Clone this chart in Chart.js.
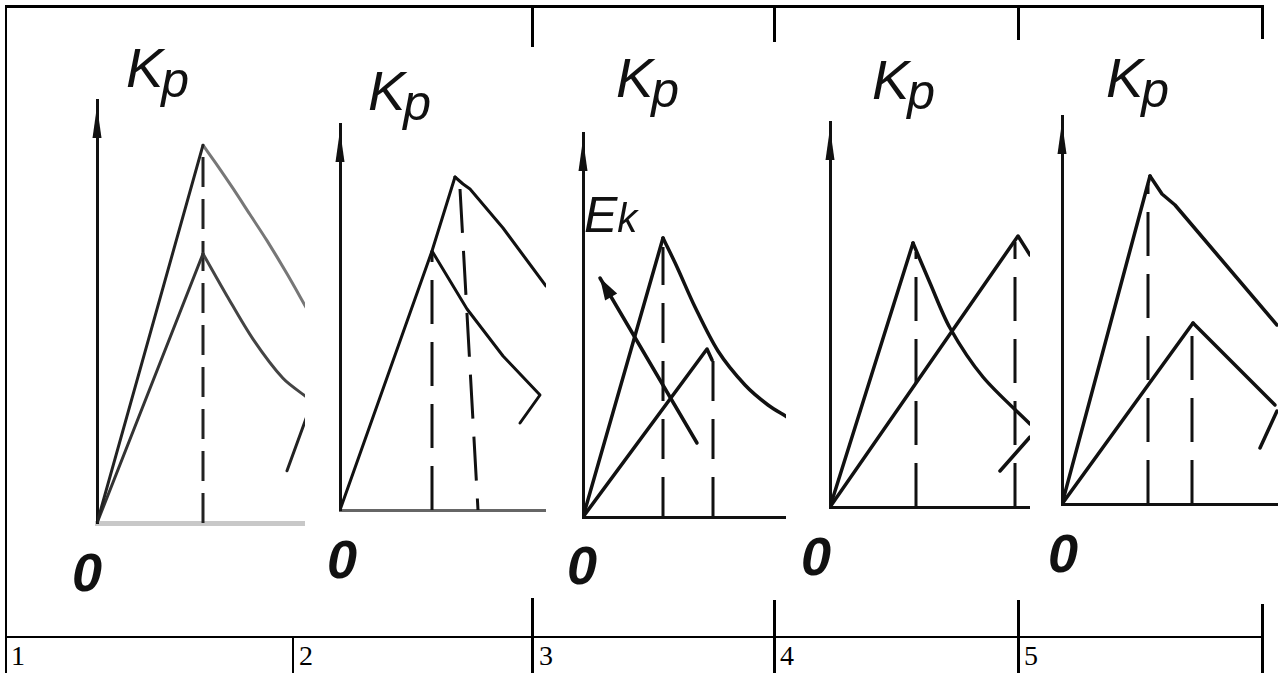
<!DOCTYPE html>
<html><head><meta charset="utf-8">
<script src="https://cdn.jsdelivr.net/npm/chart.js@4.4.1/dist/chart.umd.min.js"></script>
<style>
html,body{margin:0;padding:0;background:#fff;}
body{width:1283px;height:673px;position:relative;overflow:hidden;}
.ln{position:absolute;background:#000;}
.cv{position:absolute;}
.kp{position:absolute;font-family:"Liberation Sans",sans-serif;font-style:italic;font-size:56px;line-height:1;color:#111;white-space:nowrap;}
.kp span{position:relative;top:10px;margin-left:-2px;font-size:50px;}
.zero{position:absolute;font-family:"Liberation Sans",sans-serif;font-style:italic;font-weight:bold;font-size:54px;line-height:1;color:#111;}
.ek{position:absolute;font-family:"Liberation Sans",sans-serif;font-style:italic;font-size:50px;line-height:1;color:#111;white-space:nowrap;}
.num{position:absolute;font-family:"Liberation Serif",serif;font-size:28px;line-height:1;color:#000;}
</style></head><body>
<!-- table lines -->
<div class="ln" style="left:6px;top:5px;width:1258px;height:3px"></div>
<div class="ln" style="left:5px;top:5px;width:2px;height:668px"></div>
<div class="ln" style="left:6px;top:636px;width:1258px;height:2px"></div>
<div class="ln" style="left:292px;top:636px;width:2px;height:37px"></div>
<div class="ln" style="left:531px;top:5px;width:3px;height:42px"></div>
<div class="ln" style="left:531px;top:598px;width:3px;height:75px"></div>
<div class="ln" style="left:773px;top:5px;width:3px;height:37px"></div>
<div class="ln" style="left:773px;top:600px;width:3px;height:73px"></div>
<div class="ln" style="left:1017px;top:5px;width:3px;height:35px"></div>
<div class="ln" style="left:1017px;top:600px;width:3px;height:73px"></div>
<div class="ln" style="left:1261px;top:5px;width:3px;height:34px"></div>
<div class="ln" style="left:1261px;top:604px;width:3px;height:69px"></div>

<div class="num" style="left:11px;top:642px">1</div>
<div class="num" style="left:299px;top:642px">2</div>
<div class="num" style="left:539px;top:642px">3</div>
<div class="num" style="left:780px;top:642px">4</div>
<div class="num" style="left:1024px;top:642px">5</div>

<canvas id="c1" class="cv"></canvas>
<canvas id="c2" class="cv"></canvas>
<canvas id="c3" class="cv"></canvas>
<canvas id="c4" class="cv"></canvas>
<canvas id="c5" class="cv"></canvas>

<div class="kp" style="left:126px;top:40px">K<span>p</span></div>
<div class="kp" style="left:368px;top:63px">K<span>p</span></div>
<div class="kp" style="left:616px;top:50px">K<span>p</span></div>
<div class="kp" style="left:872px;top:52px">K<span>p</span></div>
<div class="kp" style="left:1106px;top:50px">K<span>p</span></div>
<div class="ek" style="left:584px;top:190px">E<span style="font-size:40px">k</span></div>

<div class="zero" style="left:72px;top:545px">0</div>
<div class="zero" style="left:327px;top:532px">0</div>
<div class="zero" style="left:567px;top:538px">0</div>
<div class="zero" style="left:801px;top:529px">0</div>
<div class="zero" style="left:1048px;top:526px">0</div>

<script>
// ---- data (x, y) in chart units ----
// Panel 1
const p1Range = [20.8, 42.1];
const p1RiseHigh = [[0,0],[10.6,37.6]];
const p1FallHigh = [[10.6,37.6],[12.1,35.5],[13.6,33.3],[15.3,30.7],[17.0,28.1],[19.0,24.8],[21.0,21.3]];
const p1RiseLow = [[0,0],[10.6,26.8]];
const p1FallLow = [[10.6,26.8],[13.0,22.6],[15.6,18.3],[18.6,14.4],[21.0,12.5]];
const p1Tail = [[19.0,5.2],[21.6,12.3]];
const p1Guide = [[10.6,0],[10.6,37.6]];
// Panel 2
const p2Range = [20.6, 38.6];
const p2Rise = [[0,0],[9.2,25.9],[11.5,33.3]];
const p2FallHigh = [[11.5,33.3],[12.3,32.6],[13.0,32.1],[16.3,28.2],[20.6,22.4]];
const p2FallLow = [[9.2,25.9],[12.7,20.1],[16.3,15.4],[20.0,11.5],[18.0,8.7]];
const p2Guide1 = [[9.2,0],[9.2,25.9]];
const p2Guide2 = [[12.0,32.1],[13.8,0]];
// Panel 3
const p3Range = [20.3, 38.4];
const p3RiseHigh = [[0,0],[8.0,27.9]];
const p3FallHigh = [[8.0,27.9],[9.4,25.0],[11.2,21.0],[13.5,16.6],[16.2,13.2],[18.5,11.2],[20.4,10.0]];
const p3RiseLow = [[0,0],[12.4,16.8],[12.9,15.7]];
const p3Ek = [[11.4,7.4],[1.7,23.9]];
const p3Guide1 = [[8.0,0],[8.0,27.0]];
const p3Guide2 = [[13.0,0],[13.0,16.5]];
// Panel 4
const p4Range = [20.0, 38.5];
const p4RiseA = [[0,0],[8.3,26.4]];
const p4FallA = [[8.3,26.4],[10.0,22.4],[12.0,17.9],[15.3,13.0],[20.0,8.3]];
const p4RiseB = [[0,0],[18.8,27.1],[20.0,25.2]];
const p4Tail = [[17.0,3.6],[20.0,7.0]];
const p4Guide1 = [[8.6,0],[8.6,25.5]];
const p4Guide2 = [[18.5,0],[18.5,26.5]];
// Panel 5
const p5Range = [21.6, 38.8];
const p5RiseA = [[0,0],[8.8,32.8]];
const p5FallA = [[8.8,32.8],[10.0,31.0],[11.3,29.9],[21.5,17.9]];
const p5RiseB = [[0,0],[13.1,18.1]];
const p5FallB = [[13.1,18.1],[21.3,9.9]];
const p5Tail = [[19.8,5.6],[21.5,9.3]];
const p5Guide1 = [[8.6,0],[8.6,32.0]];
const p5Guide2 = [[13.0,0],[13.0,17.5]];

// ---- layout (pixels) ----
const PL = 24, PT = 12, PB = 12;

function pts(a){ return a.map(p => ({x:p[0], y:p[1]})); }
function line(a, opt){
  return Object.assign({data: pts(a), showLine:true, pointRadius:0, borderColor:'#111', borderWidth:3,
    tension:0, fill:false, borderCapStyle:'round', borderJoinStyle:'round'}, opt||{});
}
function curve(a, opt){ return line(a, Object.assign({tension:0.3}, opt||{})); }
function dash(a, opt){ return line(a, Object.assign({borderDash:[34,14], borderCapStyle:'butt', borderWidth:3}, opt||{})); }

const arrowPlugin = {
  id:'arrows',
  afterDatasetsDraw(chart){
    const {ctx, scales:{x, y}} = chart;
    const ax = x.getPixelForValue(0), top = y.getPixelForValue(y.max);
    ctx.save();
    ctx.fillStyle = '#111';
    ctx.beginPath();
    ctx.moveTo(ax, top + 6); ctx.lineTo(ax + 4.5, top + 38); ctx.lineTo(ax - 4.5, top + 38); ctx.closePath();
    ctx.fill();
    chart.data.datasets.forEach((ds, i) => {
      if (!ds.arrowEnd) return;
      const el = chart.getDatasetMeta(i).data;
      const a = el[el.length-2], b = el[el.length-1];
      const ang = Math.atan2(b.y - a.y, b.x - a.x);
      const L = 22, W = 7;
      ctx.beginPath();
      ctx.moveTo(b.x, b.y);
      ctx.lineTo(b.x - L*Math.cos(ang) + W*Math.sin(ang), b.y - L*Math.sin(ang) - W*Math.cos(ang));
      ctx.lineTo(b.x - L*Math.cos(ang) - W*Math.sin(ang), b.y - L*Math.sin(ang) + W*Math.cos(ang));
      ctx.closePath(); ctx.fill();
    });
    ctx.restore();
  }
};

function make(id, origin, top, right, range, datasets, xAxis){
  const cv = document.getElementById(id);
  const w = right - origin[0] + PL, h = origin[1] - top + PT + PB;
  cv.width = w; cv.height = h;
  cv.style.left = (origin[0] - PL) + 'px';
  cv.style.top = (top - PT) + 'px';
  cv.style.width = w + 'px'; cv.style.height = h + 'px';
  return new Chart(cv, {
    type:'scatter',
    data:{datasets},
    plugins:[arrowPlugin],
    options:{
      responsive:false, animation:false, events:[],
      layout:{padding:{left:PL, top:PT, right:0, bottom:PB}},
      plugins:{legend:{display:false}, tooltip:{enabled:false}},
      scales:{
        x:{type:'linear', min:0, max:range[0], ticks:{display:false}, grid:{display:false, drawTicks:false},
           border:{display:true, color:xAxis.color, width:xAxis.width}},
        y:{type:'linear', min:0, max:range[1], ticks:{display:false}, grid:{display:false, drawTicks:false},
           border:{display:true, color:'#111', width:3}}
      }
    }
  });
}

make('c1', [97,523], 100, 305, p1Range, [
  line(p1RiseHigh, {borderColor:'#222'}),
  curve(p1FallHigh, {borderColor:'#777'}),
  line(p1RiseLow, {borderColor:'#333'}),
  curve(p1FallLow, {borderColor:'#444'}),
  line(p1Tail, {borderColor:'#222'}),
  dash(p1Guide, {borderColor:'#222', borderDash:[30,12]})
], {color:'#c8c8c8', width:5});

make('c2', [340,510], 124, 546, p2Range, [
  line(p2Rise),
  line(p2FallHigh),
  line(p2FallLow),
  dash(p2Guide1, {borderDash:[44,18]}),
  dash(p2Guide2, {borderDash:[44,18]})
], {color:'#666', width:3});

make('c3', [583,517], 133, 786, p3Range, [
  line(p3RiseHigh, {borderWidth:3.5}),
  curve(p3FallHigh, {borderWidth:3.5}),
  line(p3RiseLow, {borderWidth:3.5}),
  line(p3Ek, {borderWidth:3.5, arrowEnd:true}),
  dash(p3Guide1, {borderDash:[40,18]}),
  dash(p3Guide2, {borderDash:[40,18]})
], {color:'#111', width:3});

make('c4', [830,507], 122, 1030, p4Range, [
  line(p4RiseA, {borderWidth:3.5}),
  curve(p4FallA, {borderWidth:3.5}),
  line(p4RiseB, {borderWidth:3.5}),
  line(p4Tail, {borderWidth:3.5}),
  dash(p4Guide1, {borderDash:[44,18]}),
  dash(p4Guide2, {borderDash:[44,18]})
], {color:'#111', width:3});

make('c5', [1062,504], 116, 1278, p5Range, [
  line(p5RiseA, {borderWidth:3.5}),
  line(p5FallA, {borderWidth:3.5}),
  line(p5RiseB, {borderWidth:3.5}),
  line(p5FallB, {borderWidth:3.5}),
  line(p5Tail, {borderWidth:3.5}),
  dash(p5Guide1, {borderDash:[44,18]}),
  dash(p5Guide2, {borderDash:[44,18]})
], {color:'#111', width:3});
</script>
</body></html>
